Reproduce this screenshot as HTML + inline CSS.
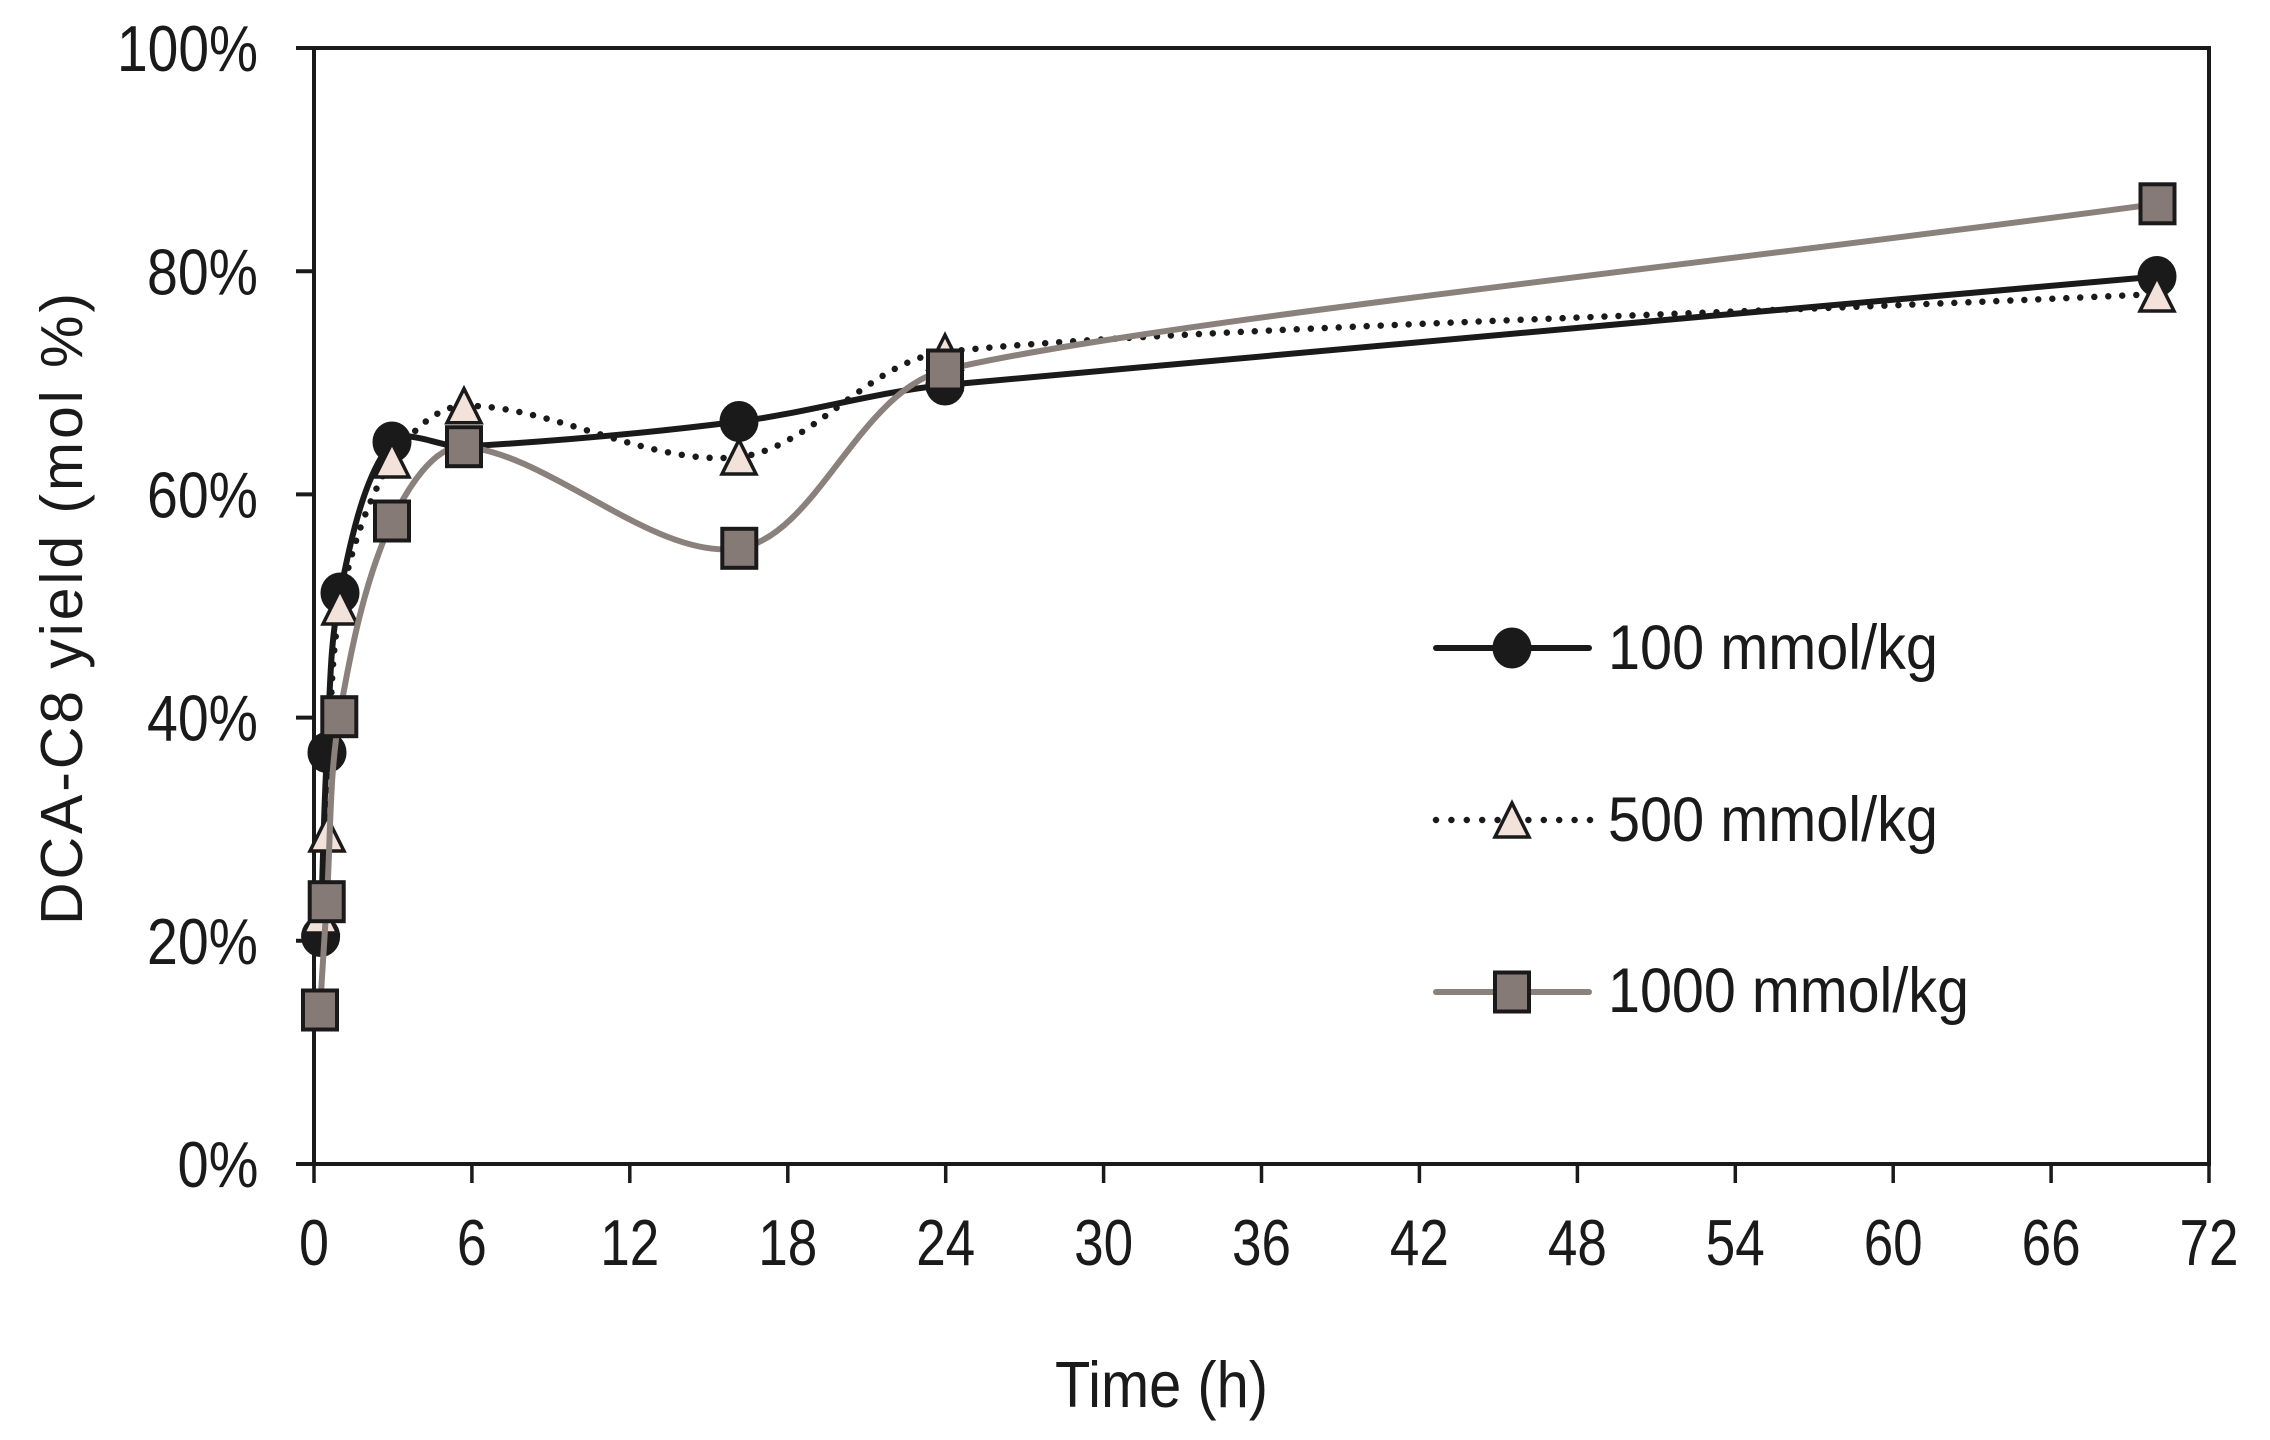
<!DOCTYPE html>
<html><head><meta charset="utf-8"><style>
html,body{margin:0;padding:0;background:#fff;}
svg{display:block;}
text{font-family:"Liberation Sans",Arial,sans-serif;fill:#1a1a1a;}
</style></head><body>
<svg width="2270" height="1440" viewBox="0 0 2270 1440" xmlns="http://www.w3.org/2000/svg">
<rect x="0" y="0" width="2270" height="1440" fill="#fff"/>
<!-- frame -->
<g stroke="#1a1a1a" stroke-width="4" fill="none">
<rect x="314" y="48" width="1895" height="1116"/>
<line x1="296" y1="48" x2="314" y2="48"/>
<line x1="296" y1="271.2" x2="314" y2="271.2"/>
<line x1="296" y1="494.4" x2="314" y2="494.4"/>
<line x1="296" y1="717.6" x2="314" y2="717.6"/>
<line x1="296" y1="940.8" x2="314" y2="940.8"/>
<line x1="296" y1="1164" x2="314" y2="1164"/>
</g>
<g stroke="#1a1a1a" stroke-width="3.5">
<line x1="314" y1="1164" x2="314" y2="1183"/>
<line x1="471.9" y1="1164" x2="471.9" y2="1183"/>
<line x1="629.8" y1="1164" x2="629.8" y2="1183"/>
<line x1="787.8" y1="1164" x2="787.8" y2="1183"/>
<line x1="945.7" y1="1164" x2="945.7" y2="1183"/>
<line x1="1103.6" y1="1164" x2="1103.6" y2="1183"/>
<line x1="1261.5" y1="1164" x2="1261.5" y2="1183"/>
<line x1="1419.4" y1="1164" x2="1419.4" y2="1183"/>
<line x1="1577.4" y1="1164" x2="1577.4" y2="1183"/>
<line x1="1735.3" y1="1164" x2="1735.3" y2="1183"/>
<line x1="1893.2" y1="1164" x2="1893.2" y2="1183"/>
<line x1="2051.1" y1="1164" x2="2051.1" y2="1183"/>
<line x1="2209" y1="1164" x2="2209" y2="1183"/>
</g>

<!-- y tick labels -->
<g font-size="65">
<text x="117" y="71" textLength="141" lengthAdjust="spacingAndGlyphs">100%</text>
<text x="147" y="294.5" textLength="111" lengthAdjust="spacingAndGlyphs">80%</text>
<text x="147" y="517.5" textLength="111" lengthAdjust="spacingAndGlyphs">60%</text>
<text x="147" y="740.5" textLength="111" lengthAdjust="spacingAndGlyphs">40%</text>
<text x="147" y="963.8" textLength="111" lengthAdjust="spacingAndGlyphs">20%</text>
<text x="177.5" y="1187" textLength="81" lengthAdjust="spacingAndGlyphs">0%</text>
</g>
<!-- x tick labels -->
<g font-size="65">
<text x="299" y="1265" textLength="30" lengthAdjust="spacingAndGlyphs">0</text>
<text x="456.9" y="1265" textLength="30" lengthAdjust="spacingAndGlyphs">6</text>
<text x="600.3" y="1265" textLength="59" lengthAdjust="spacingAndGlyphs">12</text>
<text x="758.3" y="1265" textLength="59" lengthAdjust="spacingAndGlyphs">18</text>
<text x="916.2" y="1265" textLength="59" lengthAdjust="spacingAndGlyphs">24</text>
<text x="1074.1" y="1265" textLength="59" lengthAdjust="spacingAndGlyphs">30</text>
<text x="1232" y="1265" textLength="59" lengthAdjust="spacingAndGlyphs">36</text>
<text x="1389.9" y="1265" textLength="59" lengthAdjust="spacingAndGlyphs">42</text>
<text x="1547.9" y="1265" textLength="59" lengthAdjust="spacingAndGlyphs">48</text>
<text x="1705.8" y="1265" textLength="59" lengthAdjust="spacingAndGlyphs">54</text>
<text x="1863.7" y="1265" textLength="59" lengthAdjust="spacingAndGlyphs">60</text>
<text x="2021.6" y="1265" textLength="59" lengthAdjust="spacingAndGlyphs">66</text>
<text x="2179.5" y="1265" textLength="59" lengthAdjust="spacingAndGlyphs">72</text>
</g>

<!-- axis titles -->
<text font-size="65" x="1055" y="1407" textLength="213" lengthAdjust="spacingAndGlyphs">Time (h)</text>
<text font-size="59" transform="translate(82,925) rotate(-90)" x="0" y="0" textLength="632" lengthAdjust="spacing">DCA-C8 yield (mol %)</text>

<!-- Series 1: 100 mmol/kg -->
<path id="s1" fill="none" stroke="#1a1a1a" stroke-width="6" stroke-linejoin="round" stroke-linecap="round"
 d="M320.6,936.5 L327,752.5 L340,593 L392,442 L464,446.5 L739,421.5 L945,385 L2157,276.5"/>
<g fill="#1a1a1a" stroke="#1a1a1a" stroke-width="3">
<ellipse cx="320.6" cy="936.5" rx="18" ry="19"/>
<ellipse cx="327" cy="752.5" rx="18" ry="19"/>
<ellipse cx="340" cy="593" rx="18" ry="19"/>
<ellipse cx="392" cy="442" rx="18" ry="19"/>
<ellipse cx="464" cy="446.5" rx="18" ry="19"/>
<ellipse cx="739" cy="421.5" rx="18" ry="19"/>
<ellipse cx="945" cy="385" rx="18" ry="19"/>
<ellipse cx="2157" cy="276.5" rx="18" ry="19"/>
</g>

<!-- Series 2: 500 mmol/kg -->
<path id="s2" fill="none" stroke="#1a1a1a" stroke-width="6.5" stroke-dasharray="0 14" stroke-linecap="round"
 d="M320.6,916 L327,834 L340,607 L392,460 L464,405.7 L739,457 L945,352 L2157,294"/>
<g fill="#f3e2da" stroke="#1a1a1a" stroke-width="3.5" stroke-linejoin="miter">
<polygon points="320.6,899 337.6,933 303.6,933"/>
<polygon points="327,817 344,851 310,851"/>
<polygon points="340,590 357,624 323,624"/>
<polygon points="392,443 409,477 375,477"/>
<polygon points="464,388.7 481,422.7 447,422.7"/>
<polygon points="739,440 756,474 722,474"/>
<polygon points="945,335 962,369 928,369"/>
<polygon points="2157,277 2174,311 2140,311"/>
</g>

<!-- Series 3: 1000 mmol/kg -->
<path id="s3" fill="none" stroke="#8a807c" stroke-width="6" stroke-linejoin="round" stroke-linecap="round"
 d="M320,1010 L326.7,901.7 L339.3,716.7 L392,521 L464,446.7 L739.3,548.3 L945,370 L2157.5,203.8"/>
<g fill="#857a76" stroke="#1a1a1a" stroke-width="4">
<rect x="303" y="990.5" width="34" height="39"/>
<rect x="309.7" y="882.2" width="34" height="39"/>
<rect x="322.3" y="697.2" width="34" height="39"/>
<rect x="375" y="501.5" width="34" height="39"/>
<rect x="447" y="427.2" width="34" height="39"/>
<rect x="722.3" y="528.8" width="34" height="39"/>
<rect x="928" y="350.5" width="34" height="39"/>
<rect x="2140.5" y="184.3" width="34" height="39"/>
</g>

<!-- Legend -->
<line x1="1436" y1="648" x2="1589" y2="648" stroke="#1a1a1a" stroke-width="6" stroke-linecap="round"/>
<ellipse cx="1512" cy="648" rx="18" ry="19" fill="#1a1a1a" stroke="#1a1a1a" stroke-width="3"/>
<text font-size="63" x="1608" y="669" textLength="330" lengthAdjust="spacingAndGlyphs">100 mmol/kg</text>

<line x1="1436" y1="820" x2="1590" y2="820" stroke="#1a1a1a" stroke-width="6.5" stroke-dasharray="0 15.4" stroke-linecap="round"/>
<polygon points="1512,803 1529,837 1495,837" fill="#f3e2da" stroke="#1a1a1a" stroke-width="3.5"/>
<text font-size="63" x="1608" y="841" textLength="330" lengthAdjust="spacingAndGlyphs">500 mmol/kg</text>

<line x1="1436" y1="992" x2="1589" y2="992" stroke="#8a807c" stroke-width="6" stroke-linecap="round"/>
<rect x="1495" y="972.5" width="34" height="39" fill="#857a76" stroke="#1a1a1a" stroke-width="4"/>
<text font-size="63" x="1608" y="1012" textLength="361" lengthAdjust="spacingAndGlyphs">1000 mmol/kg</text>
</svg>
<script>
(function(){
 function D(a,b){return Math.hypot(a[0]-b[0],a[1]-b[1]);}
 function sm(p){
  var d='M'+p[0][0]+','+p[0][1];
  var n=p.length;
  for(var i=0;i<n-1;i++){
   var p0=p[i-1]||p[i],p1=p[i],p2=p[i+1],p3=p[i+2]||p[i+1];
   var d01=D(p0,p1),d12=D(p1,p2),d23=D(p2,p3);
   var f1=(d01+d12)>0?d12/(d01+d12)/3:0;
   var f2=(d12+d23)>0?d12/(d12+d23)/3:0;
   if(i===n-2){f1*=0.5;}
   var c1=[p1[0]+(p2[0]-p0[0])*f1,p1[1]+(p2[1]-p0[1])*f1];
   var c2=[p2[0]-(p3[0]-p1[0])*f2,p2[1]-(p3[1]-p1[1])*f2];
   d+=' C'+c1[0].toFixed(1)+','+c1[1].toFixed(1)+' '+c2[0].toFixed(1)+','+c2[1].toFixed(1)+' '+p2[0]+','+p2[1];
  }
  return d;
 }
 var S={
  s1:[[320.6,936.5],[327,752.5],[340,593],[392,442],[464,446.5],[739,421.5],[945,385],[2157,276.5]],
  s2:[[320.6,916],[327,834],[340,607],[392,460],[464,405.7],[739,457],[945,352],[2157,294]],
  s3:[[320,1010],[326.7,901.7],[339.3,716.7],[392,521],[464,446.7],[739.3,548.3],[945,370],[2157.5,203.8]]
 };
 for(var k in S){var e=document.getElementById(k); if(e) e.setAttribute('d',sm(S[k]));}
})();
</script>
</body></html>
